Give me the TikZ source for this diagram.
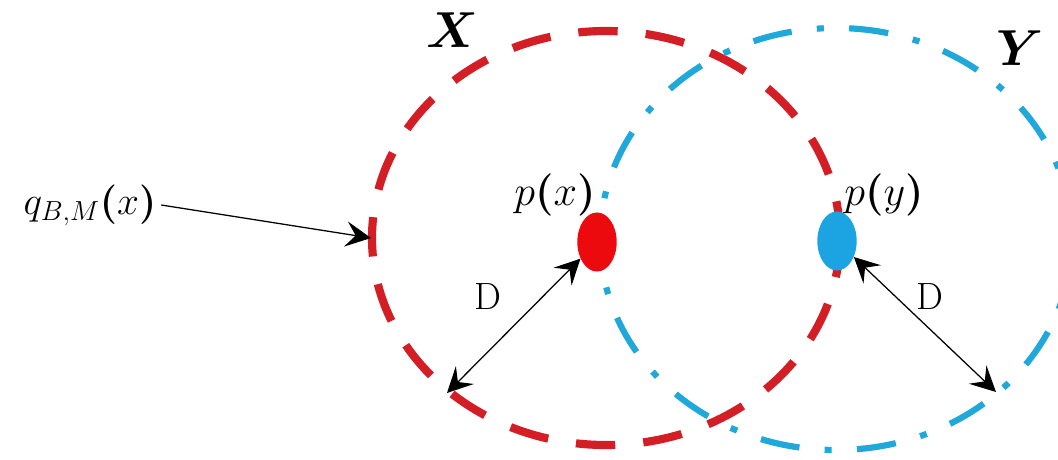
\RequirePackage{fix-cm}
\documentclass[tikz,border=0pt]{standalone}
\usepackage{amsmath,bm}
\usetikzlibrary{shapes.geometric,arrows.meta}
\definecolor{setred}{RGB}{212,30,38}
\definecolor{setblue}{RGB}{32,168,218}
\definecolor{dotred}{RGB}{236,10,14}
\definecolor{dotblue}{RGB}{28,164,226}
\tikzset{
  redset/.style={setred, line width=5.8pt, dash pattern=on 28pt off 20pt},
  blueset/.style={setblue, line width=4.4pt, dash pattern=on 28pt off 18pt on 5pt off 18pt},
  centre/.style={ellipse, inner sep=0pt, minimum width=28pt, minimum height=42pt},
  dist/.style={line width=0.9pt, {Stealth[length=18pt,width=18pt,inset=7pt]}-{Stealth[length=18pt,width=18pt,inset=7pt]}},
  pointer/.style={line width=0.9pt, -{Stealth[length=18pt,width=18pt,inset=7pt]}},
  big/.style={font=\fontsize{30}{30}\selectfont}
}
\begin{document}
\begin{tikzpicture}[x=0.025cm, y=-0.025cm]
\useasboundingbox (0,0) rectangle (1058,460);
% the two sets
\draw[redset] (606,238) ellipse [x radius=234, y radius=207];
\draw[blueset] (836,239) ellipse [x radius=236, y radius=211];
\node (X) at (452,30) {\fontsize{36}{36}\selectfont$\bm{X}$};
\node (Y) at (1020,48) {\fontsize{36}{36}\selectfont$\bm{Y}$};
% centres
\node[centre, fill=dotred] (px) at (597,242) {};
\node[centre, fill=dotblue] (py) at (837,241) {};
\node[big] (pxl) at (555,195) {$p\bm{(}x\bm{)}$};
\node[big] (pyl) at (884,195) {$p\bm{(}y\bm{)}$};
% boundary
\node[font=\fontsize{28}{28}\selectfont] (qbm) at (90,205) {$q_{B,M}\bm{(}x\bm{)}$};
\coordinate (xedge) at (371,238);
\draw[pointer] (qbm.east) -- (xedge);
% distances
\coordinate (xrim) at (447,393);
\coordinate (yrim) at (996,392);
\draw[dist] (xrim) -- (px);
\draw[dist] (py) -- (yrim);
\node (dx) at (488,297) {\fontsize{27}{27}\selectfont D};
\node (dy) at (930,297) {\fontsize{27}{27}\selectfont D};
\end{tikzpicture}
\end{document}
